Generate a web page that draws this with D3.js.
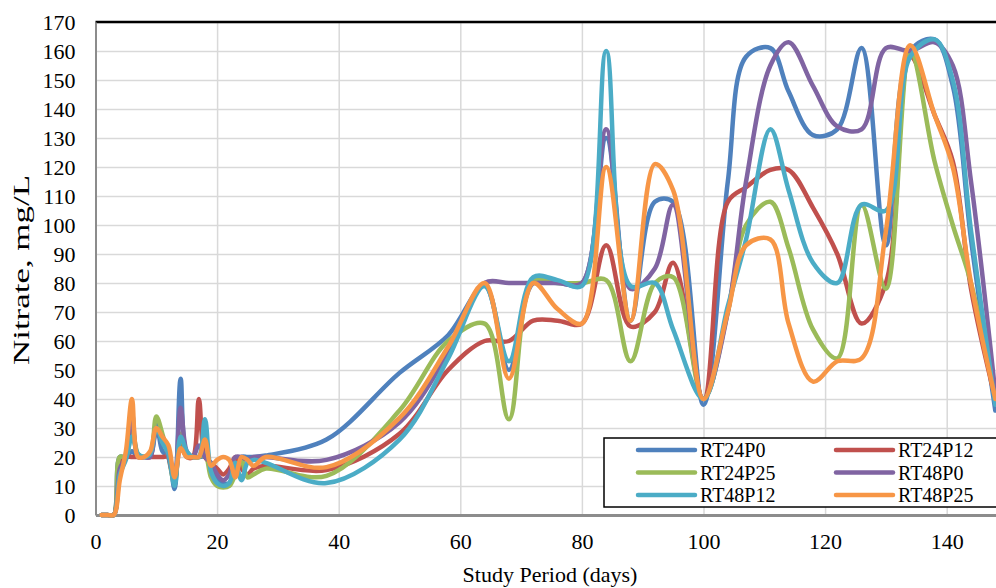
<!DOCTYPE html>
<html>
<head>
<meta charset="utf-8">
<script src="https://cdn.jsdelivr.net/npm/d3@7"></script>
<style>
  html, body { margin: 0; padding: 0; background: #fff; }
  svg { display: block; }
  svg text { font-family: "Times New Roman", "Liberation Serif", Times, "DejaVu Serif", serif; fill: #000; }
</style>
</head>
<body>
<svg id="chart" width="996" height="588"></svg>
<script>
// sampling days
const days = [1,2,3,4,5,6,7,8,9,10,11,12,13,14,15,16,17,18,19,20,21,22,23,24,25,26,28,38,50,58,64,68,72,76,80,84,88,92,95,100,104,107,111,114,118,122,126,130,134,138,141,144,148];

// nitrate, mg/L for each run
const rt24p0  = [0,0,0,20,20,22,20,20,20,32,22,20,9,47,21,20,20,20,17,13,11,11,16,20,20,20,20.5,26,49,62,79,50,80,80,80,130,67,108,108,38,115,158,161,146,131,133,161,93,160,164,148,95,36];
const rt24p12 = [0,0,0,18,20,20,20,20,20,20,20,20,12,24,20,20,40,20,18,16,14,16,20,16,14,16,17,15.5,28,50,60,60,67,67,66,93,65,70,87,40,108,113,119,119,106,90,66,80,158,138,122,78,40];
const rt24p25 = [0,0,0,20,20,30,21,20,21,34,28,20,11,28,21,20,20,21,13,10,9.5,10,14,19,13,14,16,13.5,36,60,66,33,81,80,80,81,53,80,82,40,70,100,108,92,64,54,107,78,160,122,100,80,40];
const rt48p0  = [0,0,0,16,20,35,20,20,20,28,27,20,12,37,22,20,24,20,18,14,12,14,20,20,19,20,20,19,32,56,80,80,80,80,80,133,78,85,107,40,70,115,155,163,148,134,133,161,160,163,155,115,42];
const rt48p12 = [0,0,0,14,19,27,21,20,21,30,25,21,10,27,22,20,20,33,15,11,10,11,18,12,18,19,18,11,26,54,79,53,82,81,79,160,79,80,64,40,72,95,133,112,87,80,107,105,158,164,150,98,38];
const rt48p25 = [0,0,0,12,22,40,20,20,22,30,27,24,13,23,20,20,20,26,17,19,20,19,13,20,19,17,20,16.5,33.5,58,80,47,80,71,66,120,67,121,112,40,70,93,95,66,46,53,54,98,162,138,120,80,40];

const seriesNames = ["RT24P0", "RT24P12", "RT24P25", "RT48P0", "RT48P12", "RT48P25"];
const seriesValues = [rt24p0, rt24p12, rt24p25, rt48p0, rt48p12, rt48p25];
const seriesColors = ["#4F81BD", "#C0504D", "#9BBB59", "#8064A2", "#4BACC6", "#F79646"];

const xTicks = [0, 20, 40, 60, 80, 100, 120, 140];
const yTicks = d3.range(0, 171, 10);

const serif = '"Times New Roman", "Liberation Serif", Times, "DejaVu Serif", serif';

const svg = d3.select("#chart");

const x = d3.scaleLinear().domain([0, 150]).range([95.5, 1007.5]);
const y = d3.scaleLinear().domain([0, 170]).range([515, 22]);

// gridlines
svg.append("g")
  .attr("transform", `translate(${x(0)},0)`)
  .call(d3.axisLeft(y).tickValues(yTicks.filter(d => d > 0)).tickSize(-(x(150) - x(0))).tickFormat(""))
  .call(g => g.select(".domain").remove())
  .call(g => g.selectAll("line").attr("stroke", "#d9d9d9").attr("stroke-width", 1.5));

svg.append("g")
  .attr("transform", `translate(0,${y(0)})`)
  .call(d3.axisBottom(x).tickValues(xTicks.filter(d => d > 0)).tickSize(-(y(0) - y(170))).tickFormat(""))
  .call(g => g.select(".domain").remove())
  .call(g => g.selectAll("line").attr("stroke", "#d9d9d9").attr("stroke-width", 1.5));

// top border of plot area
svg.append("line")
  .attr("x1", x(0)).attr("x2", x(150))
  .attr("y1", y(170)).attr("y2", y(170))
  .attr("stroke", "#000").attr("stroke-width", 2.5);

// axes
const yAxis = svg.append("g")
  .attr("transform", `translate(${x(0)},0)`)
  .call(d3.axisLeft(y).tickValues(yTicks).tickSize(0).tickPadding(20));
yAxis.attr("font-family", serif);
yAxis.select(".domain").attr("stroke", "#8c8c8c").attr("stroke-width", 2);
yAxis.selectAll("text").attr("font-size", 22).style("font-family", serif);

const xAxis = svg.append("g")
  .attr("transform", `translate(0,${y(0)})`)
  .call(d3.axisBottom(x).tickValues(xTicks).tickSize(0).tickPadding(18));
xAxis.attr("font-family", serif);
xAxis.select(".domain").attr("stroke", "#8c8c8c").attr("stroke-width", 3);
xAxis.selectAll("text").attr("font-size", 22).style("font-family", serif);

// series lines (smoothed like the spreadsheet chart)
const line = d3.line()
  .x((d, i) => x(days[i]))
  .y(d => y(d))
  .curve(d3.curveCatmullRom.alpha(0.5));

svg.append("g")
  .selectAll("path")
  .data(seriesValues)
  .join("path")
  .attr("d", d => line(d))
  .attr("fill", "none")
  .attr("stroke", (d, i) => seriesColors[i])
  .attr("stroke-width", 4.5)
  .attr("stroke-linejoin", "round")
  .attr("stroke-linecap", "round");

// axis titles
svg.append("text")
  .attr("x", 550).attr("y", 582)
  .attr("text-anchor", "middle")
  .attr("font-size", 22)
  .style("font-family", serif)
  .text("Study Period (days)");

svg.append("text")
  .attr("transform", "translate(29,270) rotate(-90)")
  .attr("text-anchor", "middle")
  .attr("font-size", 24)
  .attr("textLength", 190)
  .attr("lengthAdjust", "spacingAndGlyphs")
  .style("font-family", serif)
  .text("Nitrate, mg/L");

// legend
const legend = svg.append("g");
legend.append("rect")
  .attr("x", 604).attr("y", 438)
  .attr("width", 400).attr("height", 69)
  .attr("fill", "#fff").attr("stroke", "#000").attr("stroke-width", 1.5);

const item = legend.selectAll("g.item")
  .data(seriesNames)
  .join("g")
  .attr("class", "item")
  .attr("transform", (d, i) => `translate(${i % 2 === 0 ? 638 : 836},${450 + Math.floor(i / 2) * 22.5})`);

item.append("line")
  .attr("x1", 0).attr("x2", 57)
  .attr("stroke", (d, i) => seriesColors[i])
  .attr("stroke-width", 4.5)
  .attr("stroke-linecap", "round");

item.append("text")
  .attr("x", 62).attr("y", 7)
  .attr("font-size", 20)
  .style("font-family", serif)
  .text(d => d);
</script>
</body>
</html>
